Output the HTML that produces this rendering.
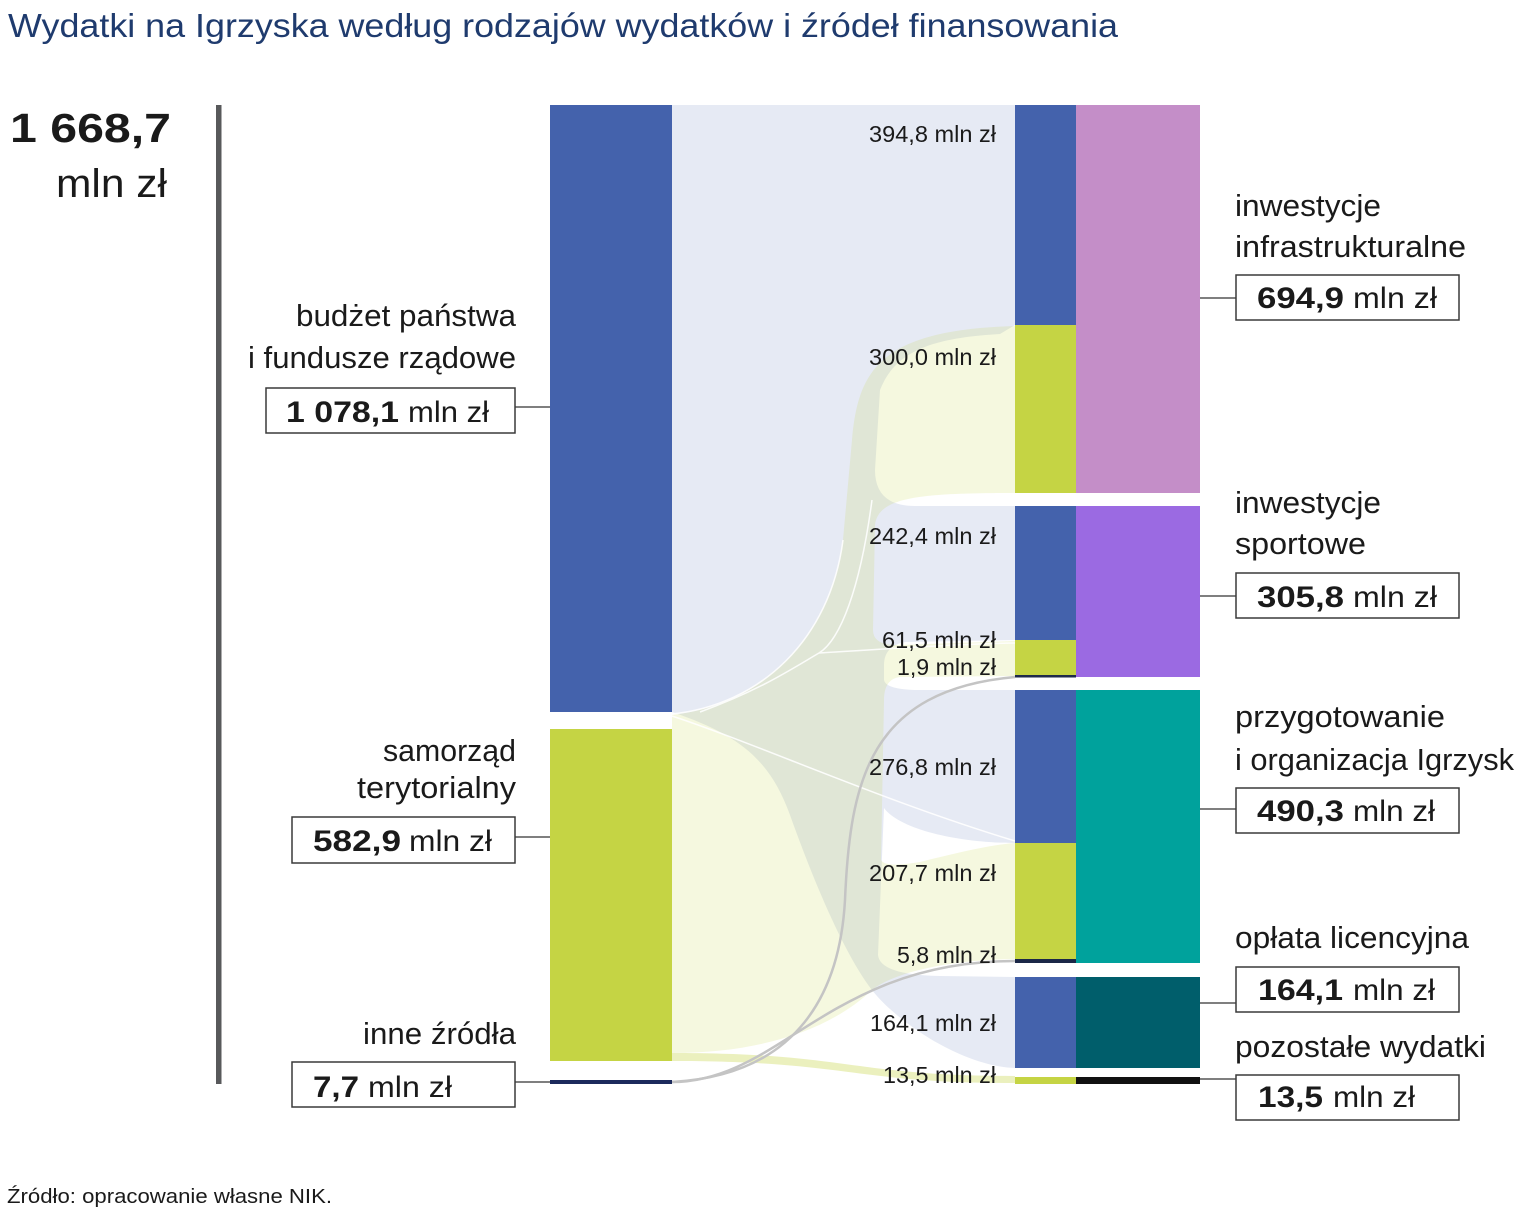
<!DOCTYPE html>
<html><head><meta charset="utf-8"><style>
html,body{margin:0;padding:0;background:#fff;}
svg{display:block;}
text{font-family:"Liberation Sans",Arial,sans-serif;fill:#1a1a1a;}
.b{font-weight:bold;}
</style></head><body>
<svg width="1520" height="1216" viewBox="0 0 1520 1216" xmlns="http://www.w3.org/2000/svg">
<rect width="1520" height="1216" fill="#fff"/>

<!-- Title -->
<text x="8" y="37" font-size="33" style="fill:#1f3b6e" textLength="1110" lengthAdjust="spacingAndGlyphs">Wydatki na Igrzyska według rodzajów wydatków i źródeł finansowania</text>

<!-- total -->
<text x="10" y="142" font-size="41" class="b" textLength="161" lengthAdjust="spacingAndGlyphs">1 668,7</text>
<text x="56" y="197" font-size="40" textLength="111" lengthAdjust="spacingAndGlyphs">mln zł</text>
<rect x="216" y="105" width="5.5" height="979" fill="#58595b"/>

<!-- blue ribbons (union) -->
<path fill="#4462ac" opacity="0.135" d="M672,105 L1015,105 L1015,325 L1000,334 C930,338 895,352 880,390 L875,470 Q875,506 915,506 L1015,506 L1015,640 L905,642 Q884,646 884,665 L884,680 Q886,690 920,690 L1015,690 L1015,843 C960,843 900,830 884,808 L878,955 Q880,975 940,976 L1015,977 L1015,1068 C960,1066 895,1020 872,990 C845,955 815,885 790,815 C770,760 740,735 672,712 Z"/>
<!-- yellow ribbons (union) -->
<path fill="#c5d444" opacity="0.17" d="M672,715 C760,705 830,640 843,540 L852,440 C858,370 880,330 1015,326 L1015,493 C920,493 878,497 875,525 L873,630 Q873,646 900,645 L1015,641 L1015,676 L900,677 Q884,679 884,700 L881,860 Q885,868 920,862 C960,852 990,845 1015,843 L1015,959 C940,960 890,975 872,990 C830,1030 760,1053 672,1053 Z"/>
<path d="M672,1053 C850,1053 850,1076 1015,1076 L1015,1083 C850,1083 850,1061 672,1061 Z" fill="#c5d444" opacity="0.35"/>

<!-- white ribbon edges -->
<g fill="none" stroke="#fff" stroke-width="1.5" opacity="0.9">
<path d="M672,716 C760,745 880,800 1015,841"/>
<path d="M672,714 C760,705 830,640 843,540"/>
<path d="M872,500 C860,590 840,640 819,653 C790,670 760,690 700,712"/>
<path d="M819,653 C900,648 960,644 1015,643"/>
</g>

<!-- inne flows -->
<g fill="none" stroke="#c4c4c4" stroke-width="2.5">
<path d="M672,1082 C800,1075 840,990 845,900 C850,780 870,690 1015,677"/>
<path d="M672,1082 C780,1082 830,961 1015,961"/>
</g>

<!-- left nodes -->
<rect x="550" y="105" width="122" height="607" fill="#4462ac"/>
<rect x="550" y="729" width="122" height="332" fill="#c5d444"/>
<rect x="550" y="1080" width="122" height="4" fill="#1c2a5c"/>

<!-- middle segments -->
<rect x="1015" y="105" width="61" height="220" fill="#4462ac"/>
<rect x="1015" y="325" width="61" height="168" fill="#c5d444"/>
<rect x="1015" y="506" width="61" height="134" fill="#4462ac"/>
<rect x="1015" y="640" width="61" height="35" fill="#c5d444"/>
<rect x="1015" y="675" width="61" height="2.5" fill="#1e2a4a"/>
<rect x="1015" y="690" width="61" height="153" fill="#4462ac"/>
<rect x="1015" y="843" width="61" height="116" fill="#c5d444"/>
<rect x="1015" y="959" width="61" height="4" fill="#1b2747"/>
<rect x="1015" y="977" width="61" height="91" fill="#4462ac"/>
<rect x="1015" y="1077" width="61" height="7" fill="#c5d444"/>

<!-- right nodes -->
<rect x="1076" y="105" width="124" height="388" fill="#c48ec8"/>
<rect x="1076" y="506" width="124" height="171" fill="#9b6ae2"/>
<rect x="1076" y="690" width="124" height="273" fill="#00a29c"/>
<rect x="1076" y="977" width="124" height="91" fill="#005e6b"/>
<rect x="1076" y="1077" width="124" height="7" fill="#111"/>

<!-- connectors -->
<g stroke="#333" stroke-width="1.3">
<line x1="515" y1="407" x2="550" y2="407"/>
<line x1="515" y1="837" x2="550" y2="837"/>
<line x1="515" y1="1082" x2="550" y2="1082"/>
<line x1="1200" y1="298" x2="1236" y2="298"/>
<line x1="1200" y1="596" x2="1236" y2="596"/>
<line x1="1200" y1="809" x2="1236" y2="809"/>
<line x1="1200" y1="1003" x2="1236" y2="1003"/>
<line x1="1200" y1="1079" x2="1236" y2="1079"/>
</g>

<!-- boxes -->
<g fill="#fff" stroke="#3a3a3a" stroke-width="1.5">
<rect x="266" y="388" width="249" height="45"/>
<rect x="292" y="817" width="223" height="46"/>
<rect x="292" y="1062" width="223" height="45"/>
<rect x="1236" y="275" width="223" height="45"/>
<rect x="1236" y="573" width="223" height="45"/>
<rect x="1236" y="788" width="223" height="45"/>
<rect x="1236" y="967" width="223" height="45"/>
<rect x="1236" y="1075" width="223" height="45"/>
</g>

<!-- left labels -->
<g font-size="31">
<text x="296" y="326" textLength="220" lengthAdjust="spacingAndGlyphs">budżet państwa</text>
<text x="248" y="368" textLength="268" lengthAdjust="spacingAndGlyphs">i fundusze rządowe</text>
<text x="383" y="761" textLength="133" lengthAdjust="spacingAndGlyphs">samorząd</text>
<text x="357" y="798" textLength="159" lengthAdjust="spacingAndGlyphs">terytorialny</text>
<text x="363" y="1044" textLength="153" lengthAdjust="spacingAndGlyphs">inne źródła</text>
</g>
<g font-size="30">
<text x="286" y="422" class="b" textLength="113" lengthAdjust="spacingAndGlyphs">1 078,1</text>
<text x="408" y="422" textLength="81" lengthAdjust="spacingAndGlyphs">mln zł</text>
<text x="313" y="851" class="b" textLength="88" lengthAdjust="spacingAndGlyphs">582,9</text>
<text x="409" y="851" textLength="83" lengthAdjust="spacingAndGlyphs">mln zł</text>
<text x="313" y="1097" class="b" textLength="46" lengthAdjust="spacingAndGlyphs">7,7</text>
<text x="368" y="1097" textLength="84" lengthAdjust="spacingAndGlyphs">mln zł</text>
</g>

<!-- right labels -->
<g font-size="31">
<text x="1235" y="216" textLength="146" lengthAdjust="spacingAndGlyphs">inwestycje</text>
<text x="1235" y="257" textLength="231" lengthAdjust="spacingAndGlyphs">infrastrukturalne</text>
<text x="1235" y="513" textLength="146" lengthAdjust="spacingAndGlyphs">inwestycje</text>
<text x="1235" y="554" textLength="131" lengthAdjust="spacingAndGlyphs">sportowe</text>
<text x="1235" y="727" textLength="210" lengthAdjust="spacingAndGlyphs">przygotowanie</text>
<text x="1235" y="770" textLength="279" lengthAdjust="spacingAndGlyphs">i organizacja Igrzysk</text>
<text x="1235" y="948" textLength="234" lengthAdjust="spacingAndGlyphs">opłata licencyjna</text>
<text x="1235" y="1057" textLength="251" lengthAdjust="spacingAndGlyphs">pozostałe wydatki</text>
</g>
<g font-size="30">
<text x="1257" y="308" class="b" textLength="87" lengthAdjust="spacingAndGlyphs">694,9</text>
<text x="1353" y="308" textLength="84" lengthAdjust="spacingAndGlyphs">mln zł</text>
<text x="1257" y="607" class="b" textLength="87" lengthAdjust="spacingAndGlyphs">305,8</text>
<text x="1353" y="607" textLength="84" lengthAdjust="spacingAndGlyphs">mln zł</text>
<text x="1257" y="821" class="b" textLength="87" lengthAdjust="spacingAndGlyphs">490,3</text>
<text x="1353" y="821" textLength="82" lengthAdjust="spacingAndGlyphs">mln zł</text>
<text x="1258" y="1000" class="b" textLength="85" lengthAdjust="spacingAndGlyphs">164,1</text>
<text x="1353" y="1000" textLength="82" lengthAdjust="spacingAndGlyphs">mln zł</text>
<text x="1258" y="1107" class="b" textLength="65" lengthAdjust="spacingAndGlyphs">13,5</text>
<text x="1333" y="1107" textLength="82" lengthAdjust="spacingAndGlyphs">mln zł</text>
</g>

<!-- middle labels -->
<g font-size="23.5">
<text x="869" y="142" textLength="127" lengthAdjust="spacingAndGlyphs">394,8 mln zł</text>
<text x="869" y="365" textLength="127" lengthAdjust="spacingAndGlyphs">300,0 mln zł</text>
<text x="869" y="544" textLength="127" lengthAdjust="spacingAndGlyphs">242,4 mln zł</text>
<text x="882" y="648" textLength="114" lengthAdjust="spacingAndGlyphs">61,5 mln zł</text>
<text x="897" y="675" textLength="99" lengthAdjust="spacingAndGlyphs">1,9 mln zł</text>
<text x="869" y="775" textLength="127" lengthAdjust="spacingAndGlyphs">276,8 mln zł</text>
<text x="869" y="881" textLength="127" lengthAdjust="spacingAndGlyphs">207,7 mln zł</text>
<text x="897" y="963" textLength="99" lengthAdjust="spacingAndGlyphs">5,8 mln zł</text>
<text x="870" y="1031" textLength="126" lengthAdjust="spacingAndGlyphs">164,1 mln zł</text>
<text x="883" y="1083" textLength="113" lengthAdjust="spacingAndGlyphs">13,5 mln zł</text>
</g>

<!-- footer -->
<text x="7" y="1203" font-size="20" textLength="325" lengthAdjust="spacingAndGlyphs">Źródło: opracowanie własne NIK.</text>
</svg>
</body></html>
